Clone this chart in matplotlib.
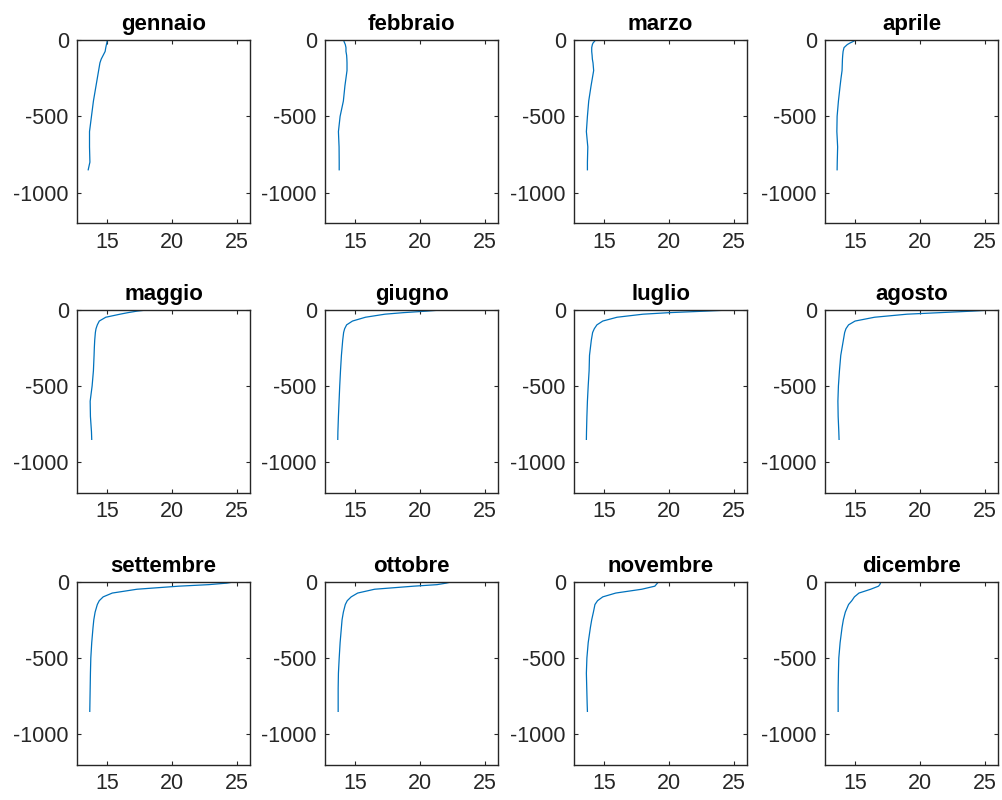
import matplotlib
matplotlib.use('Agg')
import matplotlib.pyplot as plt

# profondità (m) comuni a tutti i profili
depth = [0, 10, 20, 30, 50, 75, 100, 125, 150, 200, 250, 300, 400, 500, 600, 700, 800, 850]

months = ['gennaio', 'febbraio', 'marzo', 'aprile', 'maggio', 'giugno',
          'luglio', 'agosto', 'settembre', 'ottobre', 'novembre', 'dicembre']

t_gen = [15.0, 15.0, 14.98, 14.95, 14.9, 14.85, 14.7, 14.55, 14.45, 14.35, 14.25, 14.15, 13.95, 13.8, 13.65, 13.65, 13.68, 13.55]
t_feb = [14.15, 14.15, 14.2, 14.25, 14.3, 14.3, 14.35, 14.37, 14.38, 14.38, 14.3, 14.22, 14.1, 13.85, 13.72, 13.77, 13.78, 13.78]
t_mar = [14.35, 14.25, 14.15, 14.1, 14.05, 14.05, 14.08, 14.1, 14.15, 14.2, 14.1, 14.0, 13.82, 13.72, 13.64, 13.75, 13.72, 13.72]
t_apr = [15.05, 14.85, 14.6, 14.4, 14.15, 14.08, 14.05, 14.03, 14.02, 14.0, 13.92, 13.85, 13.72, 13.62, 13.6, 13.66, 13.63, 13.62]
t_mag = [18.3, 17.3, 16.6, 16.0, 14.9, 14.4, 14.25, 14.15, 14.1, 14.05, 14.02, 14.0, 13.95, 13.85, 13.7, 13.72, 13.8, 13.82]
t_giu = [22.0, 20.5, 18.7, 17.3, 15.8, 14.8, 14.35, 14.2, 14.12, 14.05, 14.0, 13.95, 13.88, 13.82, 13.77, 13.72, 13.68, 13.67]
t_lug = [25.3, 22.8, 20.0, 18.0, 16.0, 14.9, 14.45, 14.25, 14.12, 14.02, 13.95, 13.88, 13.85, 13.78, 13.72, 13.68, 13.65, 13.64]
t_ago = [26.0, 24.0, 21.5, 19.0, 16.5, 15.0, 14.5, 14.3, 14.2, 14.1, 14.0, 13.9, 13.8, 13.72, 13.68, 13.7, 13.75, 13.77]
t_set = [24.9, 24.2, 22.8, 20.5, 17.3, 15.4, 14.7, 14.4, 14.25, 14.08, 13.98, 13.92, 13.82, 13.75, 13.72, 13.7, 13.68, 13.67]
t_ott = [22.5, 22.0, 21.3, 19.5, 16.5, 15.2, 14.7, 14.4, 14.25, 14.1, 14.0, 13.95, 13.85, 13.78, 13.72, 13.7, 13.7, 13.7]
t_nov = [19.2, 19.1, 19.0, 18.9, 17.9, 15.9, 14.9, 14.5, 14.3, 14.18, 14.05, 13.95, 13.78, 13.68, 13.64, 13.67, 13.7, 13.72]
t_dic = [17.0, 16.95, 16.9, 16.8, 16.2, 15.3, 14.95, 14.75, 14.5, 14.25, 14.1, 14.0, 13.85, 13.75, 13.72, 13.7, 13.7, 13.7]

temps = [t_gen, t_feb, t_mar, t_apr, t_mag, t_giu,
         t_lug, t_ago, t_set, t_ott, t_nov, t_dic]

plt.rcParams['font.family'] = ['Liberation Sans', 'DejaVu Sans']
plt.rcParams['axes.unicode_minus'] = False

fig = plt.figure(figsize=(10.02, 8), dpi=100)

lefts = [0.077, 0.3245, 0.573, 0.8235]
bottoms = [0.721, 0.384, 0.044]
w, h = 0.1727, 0.229

for i, (name, t) in enumerate(zip(months, temps)):
    r, c = divmod(i, 4)
    ax = fig.add_axes([lefts[c], bottoms[r], w, h])
    ax.plot(t, [-d for d in depth], color='#0072BD', linewidth=0.9)
    ax.set_xlim(12.7, 26)
    ax.set_ylim(-1200, 0)
    ax.set_xticks([15, 20, 25])
    ax.set_yticks([-1000, -500, 0])
    ax.tick_params(direction='in', top=True, right=True, length=3, width=0.8,
                   colors='#262626', labelsize=15.5, pad=6)
    for s in ax.spines.values():
        s.set_color('#262626')
        s.set_linewidth(1.0)
    ax.set_title(name, fontsize=16, fontweight='bold', pad=7)

fig.savefig('out.png', dpi=100)
